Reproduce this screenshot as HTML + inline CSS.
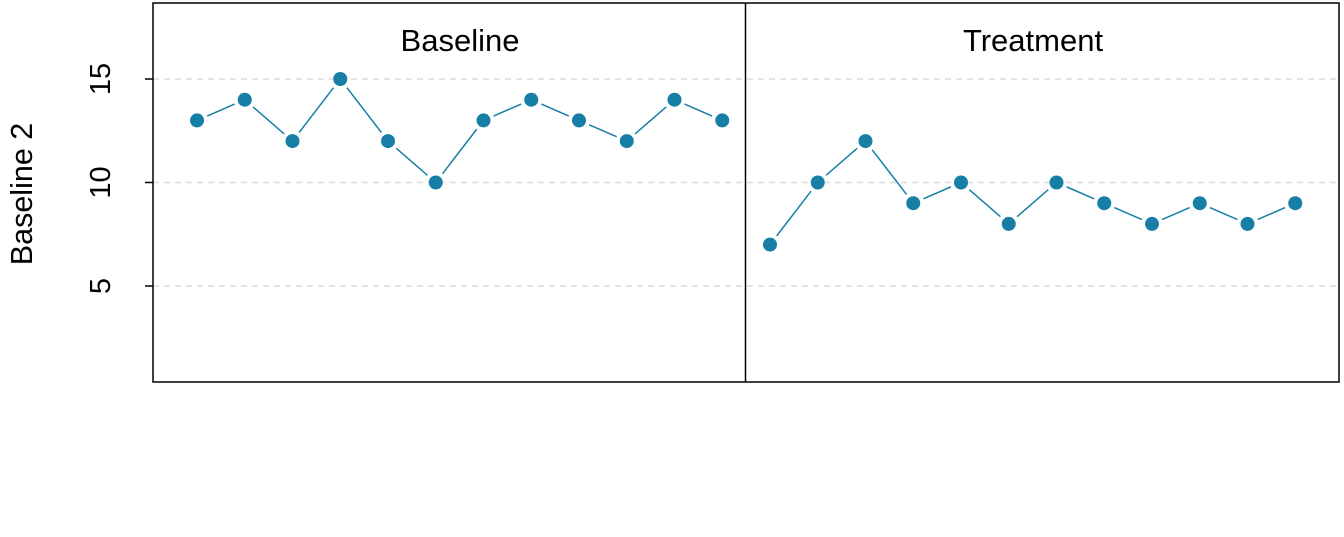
<!DOCTYPE html>
<html><head><meta charset="utf-8"><style>
html,body{margin:0;padding:0;background:#fff;}
svg{display:block;font-family:"Liberation Sans",sans-serif;}
</style></head><body>
<svg id="chart" width="1344" height="537">
<g id="grid"></g>
<g id="axis"></g>
<g id="marks"></g>
<rect x="153" y="3" width="1186" height="379" fill="none" stroke="#000" stroke-width="1.5"/>
<line x1="745.5" y1="3" x2="745.5" y2="382" stroke="#000" stroke-width="1.5"/>
<text x="460" y="51" font-size="31" text-anchor="middle">Baseline</text>
<text x="1033" y="51" font-size="31" text-anchor="middle">Treatment</text>
<text transform="translate(32,194) rotate(-90)" font-size="30.5" text-anchor="middle">Baseline 2</text>
</svg>
<script>
const phases = ["Baseline","Treatment"];
const baselineValues = [13,14,12,15,12,10,13,14,13,12,14,13];
const treatmentValues = [7,10,12,9,10,8,10,9,8,9,8,9];
const yTicks = [5,10,15];
const ns="http://www.w3.org/2000/svg";
function y(v){return 389.5-v*20.7;}
function x(i){return 197+i*47.75;}
const svg=document.getElementById('chart');
const grid=document.getElementById('grid'),axis=document.getElementById('axis'),marks=document.getElementById('marks');
function mk(t,a,p){const e=document.createElementNS(ns,t);for(const k in a)e.setAttribute(k,a[k]);p.appendChild(e);return e;}
yTicks.forEach(t=>{
 const g=mk('line',{x1:153,x2:1339,y1:y(t),y2:y(t),stroke:'#dcdcdc','stroke-width':1.5,'stroke-dasharray':'6,5'},grid);
 
 
 const tk=mk('line',{x1:145,x2:153,y1:y(t),y2:y(t),stroke:'#000','stroke-width':1.5},axis);
 
 
 const lb=mk('text',{transform:`translate(110,${y(t)}) rotate(-90)`,'font-size':29,'text-anchor':'middle'},axis);
 lb.textContent=t;
 
 
});
const col='#177fa6';
function series(vals,off,name){
 for(let i=0;i<vals.length-1;i++){
  const x1=x(off+i),y1=y(vals[i]),x2=x(off+i+1),y2=y(vals[i+1]);
  const dx=x2-x1,dy=y2-y1,L=Math.hypot(dx,dy),g=11;
  const l=mk('line',{x1:x1+dx*g/L,y1:y1+dy*g/L,x2:x2-dx*g/L,y2:y2-dy*g/L,stroke:col,'stroke-width':1.5},marks);
  
  
 }
 vals.forEach((v,i)=>{
  const c=mk('circle',{cx:x(off+i),cy:y(v),r:7,fill:col},marks);
  
  
 });
}
series(baselineValues,0,'baseline');
series(treatmentValues,baselineValues.length,'treatment');
</script>
</body></html>
